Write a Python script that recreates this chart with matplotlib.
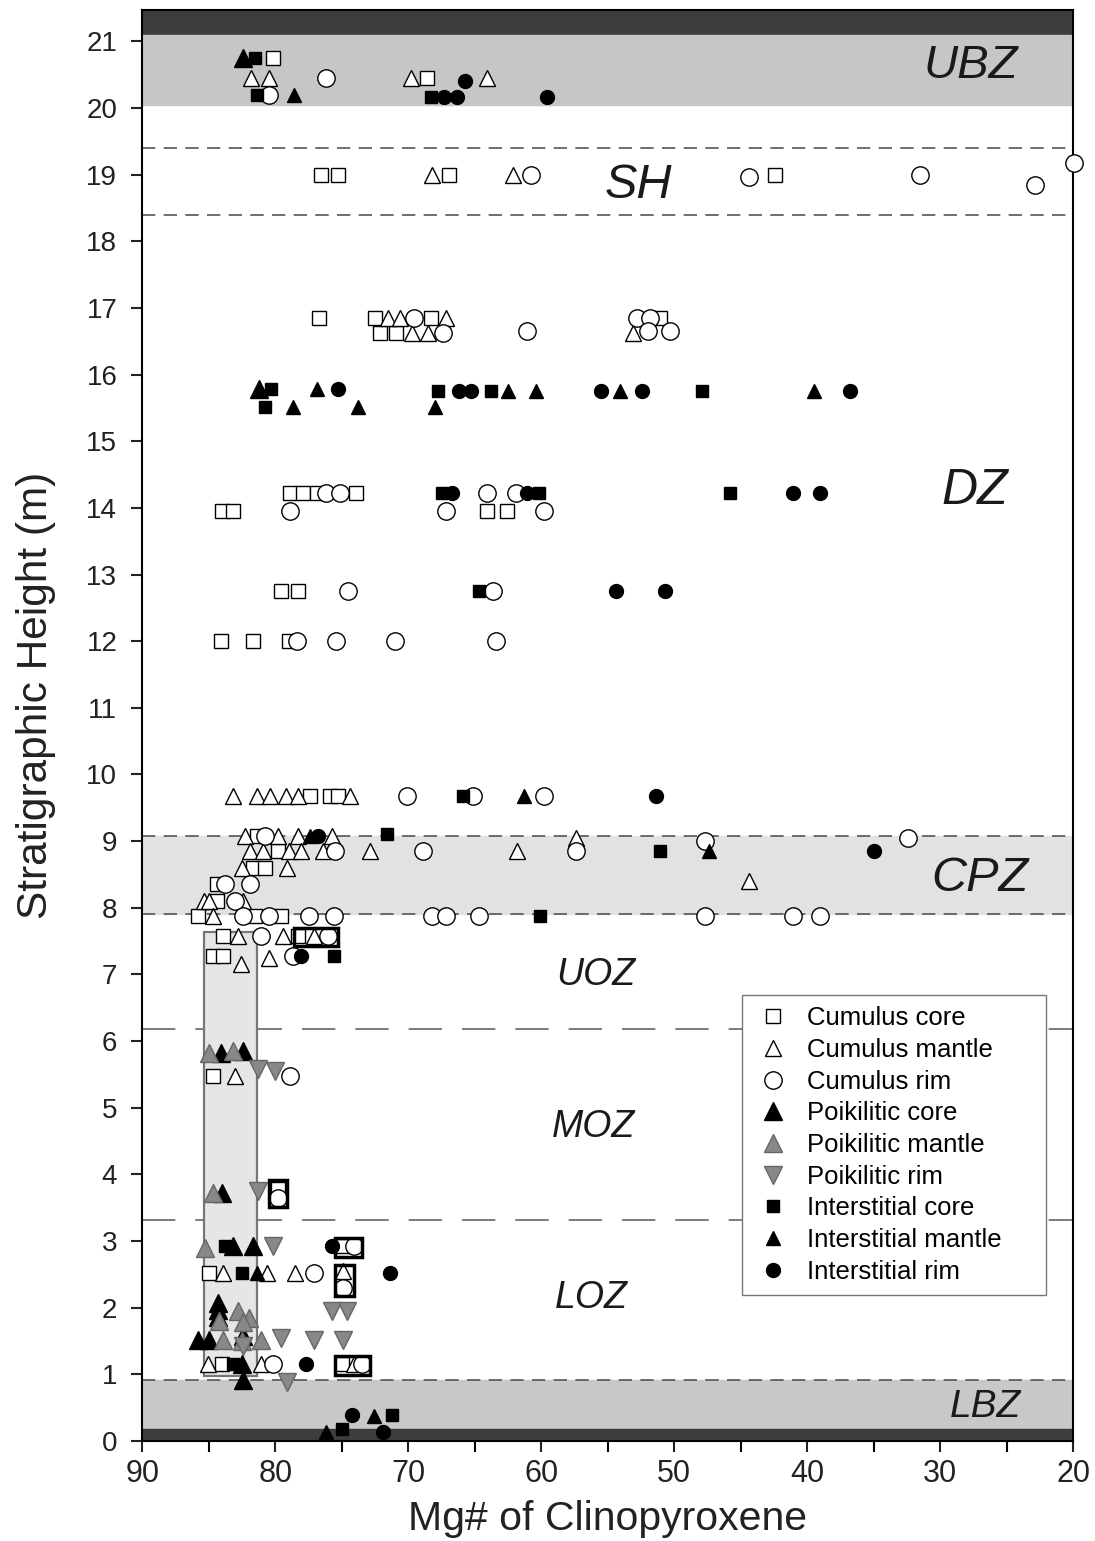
#Mg# of clinopyroxene vs stratigraphic height, by texture and zone
import matplotlib
matplotlib.use('Agg')
import matplotlib.pyplot as plt
from matplotlib.patches import Rectangle

plt.rcParams['font.family'] = ['Liberation Sans', 'DejaVu Sans']

#cumulus core (open squares)
cc_x = [80.2, 68.6, 76.6, 75.3, 66.9, 42.4, 76.7, 72.5, 68.3, 72.1, 70.9, 51.1,
        78.9, 77.9, 76.9, 73.9, 84.0, 83.2, 64.1, 62.6, 79.6, 78.3, 84.1, 81.7, 79.0,
        77.4, 75.9, 75.3, 81.4, 79.8, 81.7, 80.8, 84.4, 84.4, 85.8, 81.5, 79.6,
        83.9, 78.3, 84.7, 83.9, 84.7, 79.8, 85.0, 84.0, 75.0, 74.9]
cc_y = [20.75, 20.45, 19.0, 19.0, 19.0, 19.0, 16.85, 16.85, 16.85, 16.62, 16.62, 16.85,
        14.22, 14.22, 14.22, 14.22, 13.95, 13.95, 13.95, 13.95, 12.75, 12.75, 12.0, 12.0, 12.0,
        9.68, 9.68, 9.68, 9.07, 8.85, 8.6, 8.6, 8.35, 8.1, 7.88, 7.88, 7.88,
        7.57, 7.57, 7.27, 7.27, 5.47, 3.78, 2.52, 1.15, 1.15, 2.92]

#cumulus mantle (open triangles)
cm_x = [81.8, 80.5, 69.8, 64.1, 68.2, 62.1, 71.5, 70.6, 67.2, 69.7, 68.5, 53.1,
        83.2, 81.4, 80.4, 79.2, 78.3, 74.4, 82.3, 79.8, 78.3, 75.7, 57.4,
        81.9, 80.9, 79.0, 78.1, 76.4, 72.9, 61.8, 82.5, 79.1, 44.4, 85.4, 85.0, 82.4,
        84.7, 82.8, 79.4, 77.1, 82.6, 80.5, 83.0, 83.9, 80.6, 78.5, 74.9,
        85.1, 81.1, 74.1]
cm_y = [20.45, 20.45, 20.45, 20.45, 19.0, 19.0, 16.85, 16.85, 16.85, 16.62, 16.62, 16.62,
        9.68, 9.68, 9.68, 9.68, 9.68, 9.68, 9.07, 9.07, 9.07, 9.07, 9.05,
        8.85, 8.85, 8.85, 8.85, 8.85, 8.85, 8.85, 8.6, 8.6, 8.4, 8.1, 8.1, 8.1,
        7.88, 7.57, 7.57, 7.57, 7.15, 7.25, 5.47, 2.52, 2.52, 2.52, 2.55,
        1.15, 1.15, 1.15]

#cumulus rim (open circles)
cr_x = [76.2, 80.5, 60.8, 44.4, 31.5, 22.9, 19.9, 69.6, 67.4, 61.1, 52.8, 51.8, 52.0, 50.3,
        76.2, 75.1, 64.1, 61.9, 78.9, 67.2, 59.8, 74.5, 63.6, 78.4, 75.4, 71.0, 63.4,
        70.1, 65.1, 59.8, 80.8, 47.7, 32.4, 75.5, 68.9, 57.4, 83.8, 81.9, 83.0,
        82.4, 80.5, 77.5, 75.6, 68.2, 67.2, 64.7, 47.7, 41.1, 39.0,
        81.1, 76.0, 78.7, 78.9, 79.8, 74.1, 77.1, 74.9, 80.2, 73.5]
cr_y = [20.45, 20.2, 19.0, 18.97, 19.0, 18.85, 19.18, 16.85, 16.62, 16.65, 16.85, 16.85, 16.65, 16.65,
        14.22, 14.22, 14.22, 14.22, 13.95, 13.95, 13.95, 12.75, 12.75, 12.0, 12.0, 12.0, 12.0,
        9.68, 9.68, 9.68, 9.07, 9.0, 9.05, 8.85, 8.85, 8.85, 8.35, 8.35, 8.1,
        7.88, 7.88, 7.88, 7.88, 7.88, 7.88, 7.88, 7.88, 7.88, 7.88,
        7.57, 7.57, 7.27, 5.47, 3.65, 2.92, 2.52, 2.3, 1.15, 1.15]

#poikilitic core (large black triangles)
pc_x = [82.4, 81.2, 84.1, 82.4, 84.0, 83.2, 81.7, 84.3, 84.3, 84.3, 85.8, 85.0, 82.4, 82.5, 82.4]
pc_y = [20.75, 15.78, 5.82, 5.85, 3.72, 2.92, 2.92, 2.07, 1.97, 1.86, 1.52, 1.52, 1.58, 1.15, 0.92]

#poikilitic mantle (grey triangles)
pm_x = [85.0, 83.2, 84.7, 85.3, 84.2, 82.8, 82.0, 82.4, 83.9, 82.5, 81.1]
pm_y = [5.82, 5.85, 3.72, 2.9, 1.8, 1.95, 1.85, 1.78, 1.52, 1.5, 1.52]

#poikilitic rim (grey inverted triangles)
pr_x = [81.3, 80.0, 81.3, 80.2, 75.7, 74.6, 79.6, 77.1, 74.9, 82.4, 79.1]
pr_y = [5.58, 5.55, 3.75, 2.92, 1.95, 1.95, 1.55, 1.52, 1.52, 1.42, 0.88]

#interstitial core (black squares)
ic_x = [81.5, 81.4, 68.3, 80.3, 67.8, 63.8, 47.9, 80.8, 67.5, 60.2, 45.8, 64.7,
        65.9, 71.6, 51.1, 60.1, 75.6, 83.8, 82.5, 83.2, 71.2, 75.0]
ic_y = [20.75, 20.2, 20.17, 15.78, 15.76, 15.76, 15.76, 15.52, 14.22, 14.22, 14.22, 12.75,
        9.68, 9.1, 8.85, 7.88, 7.27, 2.92, 2.52, 1.15, 0.39, 0.18]

#interstitial mantle (small black triangles)
im_x = [78.6, 76.9, 62.5, 60.4, 54.1, 39.5, 78.7, 73.8, 68.0, 61.3, 77.4, 47.4, 81.4, 72.6, 76.2]
im_y = [20.2, 15.78, 15.76, 15.76, 15.76, 15.76, 15.52, 15.52, 15.52, 9.68, 9.07, 8.85, 2.52, 0.37, 0.14]

#interstitial rim (black circles)
ir_x = [65.7, 67.3, 66.3, 59.6, 75.3, 66.2, 65.3, 55.5, 52.4, 36.8, 66.7, 61.1, 41.1, 39.0,
        54.4, 50.7, 51.4, 76.8, 35.0, 78.1, 75.7, 71.4, 77.7, 74.2, 71.9]
ir_y = [20.41, 20.17, 20.17, 20.17, 15.78, 15.76, 15.76, 15.76, 15.76, 15.76, 14.22, 14.22, 14.22, 14.22,
        12.75, 12.75, 9.68, 9.07, 8.85, 7.27, 2.92, 2.52, 1.15, 0.39, 0.14]

#zone labels and boundaries
zone_names = ['UBZ', 'SH', 'DZ', 'CPZ', 'UOZ', 'MOZ', 'LOZ', 'LBZ']
zone_label_x = [27.7, 52.7, 27.4, 27.0, 55.9, 56.1, 56.2, 26.6]
zone_label_y = [20.63, 18.84, 14.26, 8.44, 6.99, 4.71, 2.14, 0.51]
zone_label_size = [34, 35, 36, 35, 27, 27, 27, 28]
short_dash_y = [19.4, 18.4, 9.07, 7.9, 0.92]
long_dash_y = [6.18, 3.32]

#highlight boxes (x0, x1, y0, y1)
box_x0 = [78.6, 80.5, 75.5, 75.5, 75.5]
box_x1 = [75.3, 79.1, 73.5, 74.1, 72.9]
box_y0 = [7.42, 3.51, 2.76, 2.17, 0.99]
box_y1 = [7.69, 3.92, 3.05, 2.64, 1.27]

fig = plt.figure(figsize=(10.95, 15.41), dpi=100)
ax = fig.add_axes([0.130, 0.0649, 0.850, 0.9286])
ax.set_xlim(90, 20)
ax.set_ylim(0, 21.47)

#background bands
ax.axhspan(21.1, 21.47, color='#3d3d3d', zorder=0)
ax.axhspan(20.05, 21.1, color='#c6c6c6', zorder=0)
ax.axhspan(7.9, 9.07, color='#e2e2e2', zorder=0)
ax.axhspan(0.18, 0.92, color='#c8c8c8', zorder=0)
ax.axhspan(0, 0.18, color='#3d3d3d', zorder=0)
for yy in short_dash_y:
    ax.axhline(yy, color='#555555', lw=1.2, dashes=(8, 5), zorder=1)
for yy in long_dash_y:
    ax.axhline(yy, color='#666666', lw=1.2, dashes=(20, 12), zorder=1)
ax.add_patch(Rectangle((85.4, 0.97), -4.0, 6.66, facecolor='#e6e6e6',
                       edgecolor='#777777', lw=1.6, zorder=1))

open_kw = dict(ls='none', mfc='white', mec='black', mew=1.0, zorder=3)
ax.plot(cc_x, cc_y, marker='s', ms=10.5, label='Cumulus core', **open_kw)
ax.plot(cm_x, cm_y, marker='^', ms=11.5, label='Cumulus mantle', **open_kw)
ax.plot(cr_x, cr_y, marker='o', ms=12.5, label='Cumulus rim', clip_on=False, **open_kw)
ax.plot(pc_x, pc_y, marker='^', ms=12.5, ls='none', mfc='black', mec='black', zorder=4,
        label='Poikilitic core')
ax.plot(pm_x, pm_y, marker='^', ms=12.5, ls='none', mfc='#888888', mec='#666666', zorder=4,
        label='Poikilitic mantle')
ax.plot(pr_x, pr_y, marker='v', ms=12.5, ls='none', mfc='#888888', mec='#666666', zorder=4,
        label='Poikilitic rim')
ax.plot(ic_x, ic_y, marker='s', ms=9, ls='none', mfc='black', mec='black', zorder=4,
        label='Interstitial core')
ax.plot(im_x, im_y, marker='^', ms=10, ls='none', mfc='black', mec='black', zorder=4,
        label='Interstitial mantle')
ax.plot(ir_x, ir_y, marker='o', ms=10, ls='none', mfc='black', mec='black', zorder=4,
        label='Interstitial rim')

for x0, x1, y0, y1 in zip(box_x0, box_x1, box_y0, box_y1):
    ax.add_patch(Rectangle((x0, y0), x1 - x0, y1 - y0, fill=False,
                           edgecolor='black', lw=2.5, zorder=5))

for name, lx, ly, fs in zip(zone_names, zone_label_x, zone_label_y, zone_label_size):
    ax.text(lx, ly, name, fontsize=fs, style='italic', ha='center', va='center',
            color='#1a1a1a', zorder=6)

ax.set_xticks(range(90, 19, -10))
ax.set_xticks(range(85, 20, -10), minor=True)
ax.set_yticks(range(0, 22))
ax.tick_params(axis='both', which='major', direction='out', length=8, width=1.5,
               colors='#222222')
ax.tick_params(axis='x', which='major', labelsize=22, pad=5)
ax.tick_params(axis='y', which='major', labelsize=20, pad=10)
ax.tick_params(axis='x', which='minor', direction='out', length=8, width=1.5)
for sp in ax.spines.values():
    sp.set_linewidth(1.5)

ax.set_xlabel('Mg# of Clinopyroxene', fontsize=29.5, color='#222222', labelpad=8)
ax.set_ylabel('Stratigraphic Height (m)', fontsize=30.5, color='#222222')
ax.yaxis.set_label_coords(-0.093, 0.521)

leg_h = 301 / 1431
leg = ax.legend(loc='upper left', bbox_to_anchor=(0.644, 0.312 - leg_h, 0.3265, leg_h),
                mode='expand', borderaxespad=0, fontsize=18.5,
                frameon=True, fancybox=False, edgecolor='#777777', framealpha=1,
                labelspacing=0.3, handletextpad=0.6, borderpad=0.45, handlelength=1.5)
leg.get_frame().set_linewidth(1.0)
leg.set_zorder(7)

plt.savefig('out.png', dpi=100)
